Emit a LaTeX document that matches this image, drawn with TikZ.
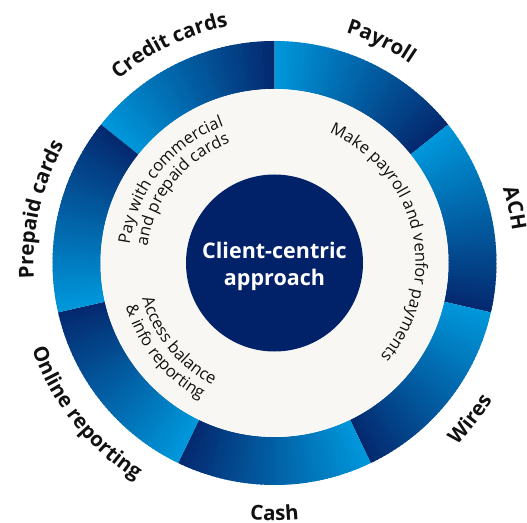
\documentclass[tikz,border=0pt]{standalone}
\usepackage{fontspec}
\setmainfont{Open Sans}
\usetikzlibrary{decorations.text}

\definecolor{ringlight}{HTML}{0096DA}
\definecolor{ringdark}{HTML}{04296F}
\definecolor{navy}{HTML}{012169}
\definecolor{cream}{HTML}{F8F7F3}
\definecolor{ink}{HTML}{111111}

\tikzset{
  outerlabel/.style={decorate, decoration={text along path, text align=center,
      text color=ink, text={|\fontsize{20.5}{24}\selectfont\bfseries|#1}}},
  innerlabel/.style={decorate, decoration={text along path, text align=center,
      text color=ink, text={|\fontsize{16.5}{20}\selectfont|#1}}},
}

\begin{document}
\begin{tikzpicture}[x=1pt, y=1pt]
  \useasboundingbox (-274.5,-259) rectangle (252.5,263);

  % seven ring segments, each shaded clockwise from light to dark blue
  \foreach \i in {0,...,6} {
    \pgfmathsetmacro\s{141.4286-51.4286*\i}
    \foreach \k in {0,...,47} {
      \pgfmathsetmacro\a{\s-51.4286*\k/48}
      \pgfmathsetmacro\b{\a-51.4286/48-0.35*(\k<47)}
      \pgfmathtruncatemacro\p{100*\k/47}
      \fill[ringdark!\p!ringlight]
        (\a:174) arc[start angle=\a, end angle=\b, radius=174]
        -- (\b:222) arc[start angle=\b, end angle=\a, radius=222] -- cycle;
    }
  }

  % cream disc and central circle
  \fill[cream] (0,0) circle[radius=174];
  \node[circle, fill=navy, minimum size=177pt, inner sep=0pt] (core) at (0,0) {};
  \node[text=white, font=\fontsize{21.5}{27}\selectfont\bfseries, align=center,
        inner sep=0pt] (corelabel) at (0,-3.5) {Client-centric\\approach};

  % outer labels, upper half (read clockwise)
  \path[outerlabel={Credit cards}] ({115.714+45}:241) arc[start angle=160.714, end angle=70.714, radius=241];
  \path[outerlabel={Payroll}] ({64.286+45}:241) arc[start angle=109.286, end angle=19.286, radius=241];
  \path[outerlabel={ACH}] ({12.857+45}:240) arc[start angle=57.857, end angle=-32.143, radius=240];
  \path[outerlabel={Prepaid cards}] ({167.143+45}:241) arc[start angle=212.143, end angle=122.143, radius=241];

  % outer labels, lower half (read counterclockwise)
  \path[outerlabel={Wires}] ({-38.571-45}:257.5) arc[start angle=-83.571, end angle=6.429, radius=257.5];
  \path[outerlabel={Cash}] ({-90-45}:257.5) arc[start angle=-135, end angle=-45, radius=257.5];
  \path[outerlabel={Online reporting}] ({-141.429-45}:257.5) arc[start angle=-186.429, end angle=-96.429, radius=257.5];

  % captions on the cream ring
  \path[innerlabel={Pay with commercial}] ({141.43+50}:146) arc[start angle=191.43, end angle=91.43, radius=146];
  \path[innerlabel={and prepaid cards}] ({141.43+50}:128) arc[start angle=191.43, end angle=91.43, radius=128];
  \path[innerlabel={Make payroll and venfor payments}] ({12.857+75}:141) arc[start angle=87.857, end angle=-62.143, radius=141];
  \path[innerlabel={Access balance}] (169:137) arc[start angle=169, end angle=269, radius=137];
  \path[innerlabel={{\&} info reporting}] (169:155) arc[start angle=169, end angle=269, radius=155];
\end{tikzpicture}
\end{document}
